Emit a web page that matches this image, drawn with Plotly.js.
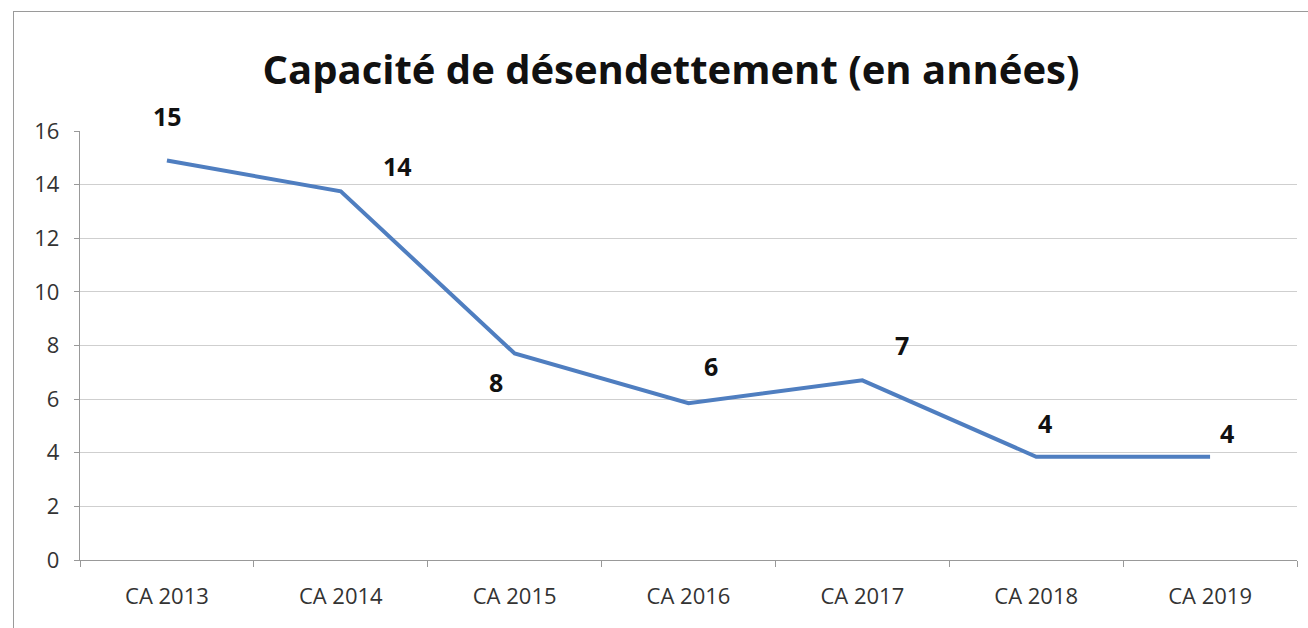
<!DOCTYPE html>
<html><head><meta charset="utf-8">
<script src="https://cdn.plot.ly/plotly-3.0.1.min.js"></script>
<style>
html,body{margin:0;padding:0;background:#fff;}
#chart{position:absolute;left:0;top:0;width:1308px;height:628px;}
#frame{position:absolute;left:13px;top:11px;width:1300px;height:630px;border-left:1.5px solid #9a9a9a;border-top:1.5px solid #9a9a9a;pointer-events:none;}
</style></head>
<body>
<div id="chart"></div>
<div id="frame"></div>
<script>
const categories = ["CA 2013","CA 2014","CA 2015","CA 2016","CA 2017","CA 2018","CA 2019"];
const values = [14.9, 13.75, 7.7, 5.85, 6.7, 3.85, 3.85];
const labels = ["15","14","8","6","7","4","4"];
const labelShiftX = [1, 57, -19, 22, 40, 9, 17];
const labelShiftY = [44, 25, -28, 37, 35, 34, 24];

const FONT = 'Open Sans, Liberation Sans, sans-serif';

const trace = {
  x: categories, y: values, type: 'scatter', mode: 'lines',
  line: {color: '#4F7EC0', width: 4}, hoverinfo: 'none', showlegend: false
};

const annotations = categories.map((c, i) => ({
  x: c, y: values[i], xref: 'x', yref: 'y', text: labels[i], showarrow: false,
  xshift: labelShiftX[i], yshift: labelShiftY[i],
  font: {family: FONT, size: 25, color: '#111', weight: 'bold'}
}));

const layout = {
  width: 1308, height: 628,
  margin: {l: 80, r: 11, t: 131, b: 68},
  paper_bgcolor: '#fff', plot_bgcolor: '#fff',
  title: {text: '<b>Capacité de désendettement (en années)</b>', x: 0.513, xanchor: 'center', y: 0.888, yanchor: 'middle',
    font: {family: FONT, size: 40, color: '#111'}},
  xaxis: {
    type: 'category', tickson: 'boundaries', ticks: 'outside', ticklen: 6, tickcolor: '#999',
    showline: true, linecolor: '#999', linewidth: 1.2, showgrid: false,
    ticklabelstandoff: 16,
    tickfont: {family: FONT, size: 22, color: '#333'},
    range: [-0.5, 6.5], fixedrange: true
  },
  yaxis: {
    range: [0, 16], dtick: 2, tick0: 0, showline: true, linecolor: '#999', linewidth: 1.2,
    gridcolor: '#cfcfcf', gridwidth: 1.2, ticks: 'outside', ticklen: 5, tickcolor: '#999',
    zeroline: false, ticklabelstandoff: 10,
    tickfont: {family: FONT, size: 22, color: '#333'},
    fixedrange: true
  },
  annotations: annotations
};

Plotly.newPlot('chart', [trace], layout, {displayModeBar: false, staticPlot: true});
</script>
</body></html>
